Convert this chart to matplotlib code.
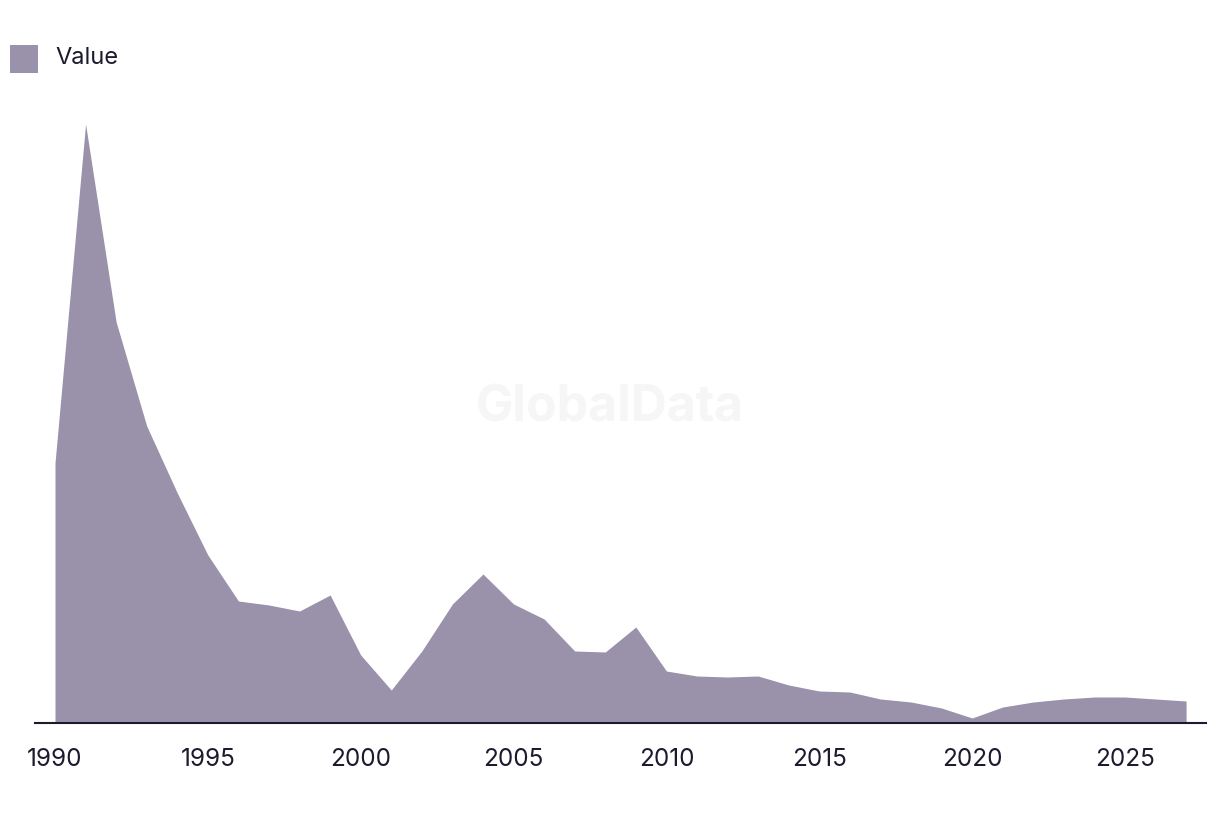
import numpy as np
import matplotlib.pyplot as plt
from matplotlib.patches import Rectangle

# ----------------------------------------------------------------------
#   Data (arbitrary units)
# ----------------------------------------------------------------------
years = list(range(1990, 2028))
values = [260, 599, 401, 297, 230, 168, 122, 118, 112, 128,
          68, 33, 72, 119, 149, 119, 104, 72, 71, 96,
          52, 47, 46, 47, 38, 32, 31, 24, 21, 15,
          5, 16, 21, 24, 26, 26, 24, 22]
tick_years = [1990, 1995, 2000, 2005, 2010, 2015, 2020, 2025]
series_name = 'Value'

fill_color = '#9a91aa'
ink = '#1b1a2e'

plt.rcParams['font.family'] = ['Inter', 'DejaVu Sans']

W, H = 1220, 814
fig = plt.figure(figsize=(W/100, H/100), dpi=100)
ax = fig.add_axes([35/W, 1 - 723/H, (1206 - 35)/W, (723 - 100)/H])

ax.fill_between(years, values, 0, color=fill_color, linewidth=0)
ax.set_xlim(1990 - 20/30.57, 1990 + 1151/30.57)
ax.set_ylim(0, 623)

for s in ['top', 'right', 'left']:
    ax.spines[s].set_visible(False)
ax.spines['bottom'].set_color(ink)
ax.spines['bottom'].set_linewidth(1.5)
ax.set_yticks([])
ax.set_xticks(tick_years)
ax.set_xticklabels([str(y) for y in tick_years])
ax.tick_params(axis='x', length=0, pad=18, labelsize=17.5, labelcolor=ink)

# watermark
fig.text(610/W, 1 - 408/H, 'GlobalData', ha='center', va='center',
         fontsize=36, fontweight='bold', color='#f6f6f6', zorder=0)

# legend: swatch + label
fig.patches.append(Rectangle((10/W, 1 - 73/H), 28/W, 28/H, transform=fig.transFigure,
                             facecolor=fill_color, edgecolor='none'))
fig.text(55/W, 1 - 58/H, series_name, ha='left', va='center',
         fontsize=17, color=ink)

fig.savefig('out.png', dpi=100)
